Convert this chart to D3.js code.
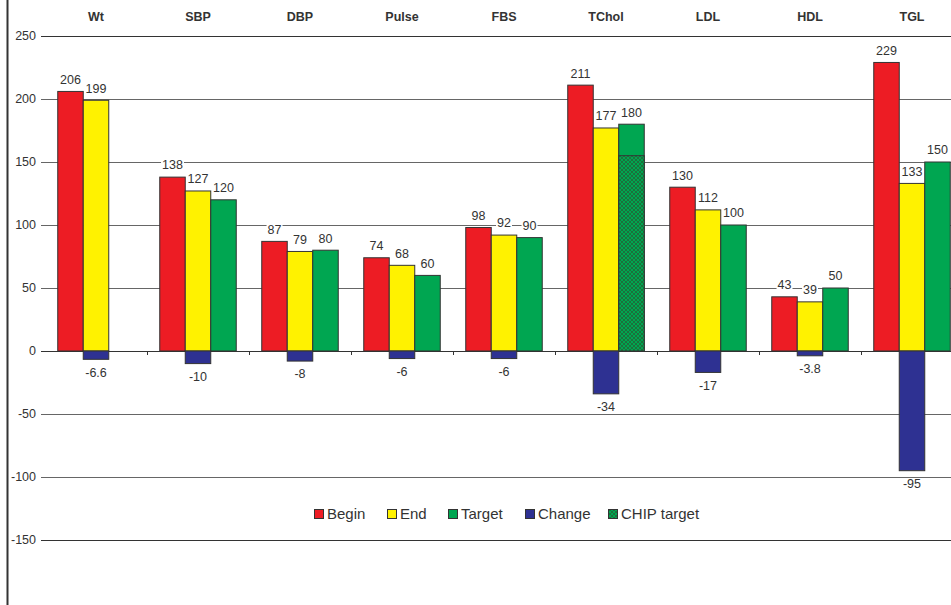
<!DOCTYPE html>
<html><head><meta charset="utf-8">
<script src="https://cdn.jsdelivr.net/npm/d3@7"></script>
<style>
html,body{margin:0;padding:0;background:#fff;}
svg{display:block;font-family:"Liberation Sans",Arial,sans-serif;}
</style></head>
<body>
<svg id="chart" width="951" height="605"></svg>
<script>
const categories = ["Wt","SBP","DBP","Pulse","FBS","TChol","LDL","HDL","TGL"];
const beginVals  = [206,138,87,74,98,211,130,43,229];
const endVals    = [199,127,79,68,92,177,112,39,133];
const targetVals = [null,120,80,60,90,180,100,50,150];
const changeVals = [-6.6,-10,-8,-6,-6,-34,-17,-3.8,-95];
const chipVals   = [null,null,null,null,null,155,null,null,null];
const yTicks     = [250,200,150,100,50,0,-50,-100,-150];
const seriesNames = ["Begin","End","Target","Change","CHIP target"];
const seriesColors = ["#ED1C24","#FFF200","#00A651","#2E3192","chip"];

const svg = d3.select("#chart");
const defs = svg.append("defs");
const pat = defs.append("pattern").attr("id","chip").attr("patternUnits","userSpaceOnUse")
  .attr("width",4).attr("height",4);
pat.append("rect").attr("width",4).attr("height",4).attr("fill","#00A651");
pat.append("path").attr("d","M0,0L4,4M4,0L0,4").attr("stroke","#1f6b3a").attr("stroke-width",0.9);

const fill = c => c === "chip" ? "url(#chip)" : c;

const x = d3.scaleBand().domain(categories).range([45,963]).paddingInner(0).paddingOuter(0);
const slot = d3.scaleBand().domain([0,1,2]).range([0,x.bandwidth()]).paddingInner(0).paddingOuter(0.5);
const y = d3.scaleLinear().domain([-150,250]).range([540,36]);

// left frame line
svg.append("line").attr("x1",7.5).attr("x2",7.5).attr("y1",0).attr("y2",605)
  .attr("stroke","#333").attr("stroke-width",2);

// gridlines
svg.append("g").selectAll("line").data(yTicks).join("line")
  .attr("x1",41).attr("x2",963)
  .attr("y1",d=>Math.round(y(d))+0.5).attr("y2",d=>Math.round(y(d))+0.5)
  .attr("stroke",d=> (d===0||d===250||d===-150) ? "#333" : "#666").attr("stroke-width",1);

// y tick labels
svg.append("g").selectAll("text").data(yTicks).join("text")
  .attr("x",36).attr("y",d=>y(d)).attr("dy","0.35em").attr("text-anchor","end")
  .attr("font-size",12.5).attr("fill","#333").text(d=>d);

// category tick marks on zero line
svg.append("g").selectAll("line").data(categories.slice(1)).join("line")
  .attr("x1",d=>Math.round(x(d))+0.5).attr("x2",d=>Math.round(x(d))+0.5)
  .attr("y1",y(0)).attr("y2",y(0)+4).attr("stroke","#333");

// category labels on top
svg.append("g").selectAll("text").data(categories).join("text")
  .attr("x",d=>x(d)+x.bandwidth()/2).attr("y",17).attr("dy","0.35em")
  .attr("text-anchor","middle").attr("font-size",12.5).attr("font-weight","bold")
  .attr("fill","#333").text(d=>d);

// bars
const series = [
  {vals:beginVals, s:0, color:seriesColors[0], label:true},
  {vals:endVals, s:1, color:seriesColors[1], label:true},
  {vals:targetVals, s:2, color:seriesColors[2], label:true},
  {vals:changeVals, s:1, color:seriesColors[3], label:true},
  {vals:chipVals, s:2, color:seriesColors[4], label:false}
];
const barG = svg.append("g");
const labels = [];
series.forEach(ser=>{
  ser.vals.forEach((v,i)=>{
    if(v===null) return;
    const bx = x(categories[i]) + slot(ser.s);
    const y0 = y(0), y1 = y(v);
    barG.append("rect")
      .attr("x",bx).attr("width",slot.bandwidth())
      .attr("y",Math.min(y0,y1)).attr("height",Math.abs(y1-y0))
      .attr("fill",fill(ser.color)).attr("stroke","#333").attr("stroke-width",1);
    if(ser.label){
      labels.push({x:bx+slot.bandwidth()/2, y: v>=0 ? y1-12 : y1+13, t:v});
    }
  });
});

// value labels with white background
const lg = svg.append("g");
labels.forEach(l=>{
  const g = lg.append("g");
  const t = g.append("text").attr("x",l.x).attr("y",l.y).attr("dy","0.35em")
    .attr("text-anchor","middle").attr("font-size",12.5).attr("fill","#333").text(l.t);
  const bb = t.node().getBBox();
  g.insert("rect","text").attr("x",bb.x-1).attr("y",bb.y+1).attr("width",bb.width+2)
    .attr("height",bb.height-2).attr("fill","#fff");
});

// legend
const legendX = [314,387,448,525,608];
const leg = svg.append("g");
seriesNames.forEach((n,i)=>{
  leg.append("rect").attr("x",legendX[i]+0.5).attr("y",509.5).attr("width",9).attr("height",9)
    .attr("fill",fill(seriesColors[i])).attr("stroke","#333").attr("stroke-width",1);
  leg.append("text").attr("x",legendX[i]+13).attr("y",514).attr("dy","0.35em")
    .attr("font-size",15).attr("fill","#333").text(n);
});
</script>
</body></html>
